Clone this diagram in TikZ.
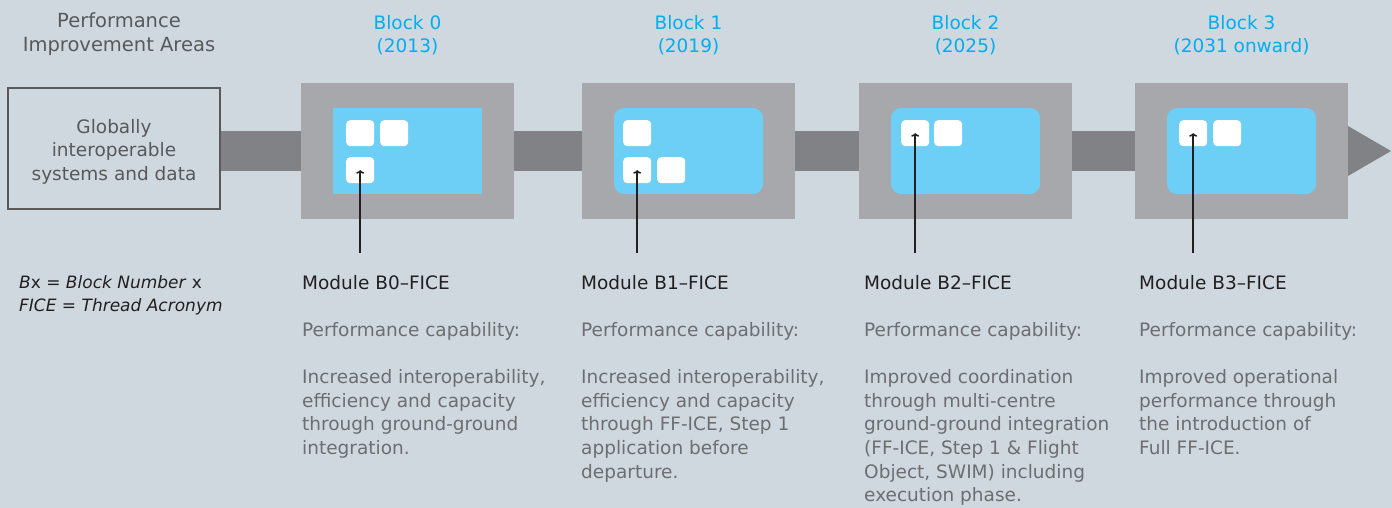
\documentclass[tikz,border=0pt]{standalone}
\usepackage{fontspec}
\setmainfont{DejaVu Sans}
\usetikzlibrary{arrows.meta,positioning}

\definecolor{bgcol}{HTML}{CFD8DF}
\definecolor{boxgray}{HTML}{58595B}
\definecolor{barcol}{HTML}{818285}
\definecolor{blkgray}{HTML}{A7A8AB}
\definecolor{coreblue}{HTML}{6DCFF6}
\definecolor{titleblue}{HTML}{00AEEF}
\definecolor{modblack}{HTML}{231F20}
\definecolor{capgray}{HTML}{6D6E71}

\begin{document}
\begin{tikzpicture}[x=1pt, y=-1pt, >={To[length=3.5pt,width=8pt]},
  txt/.style={font=\fontsize{18.5}{23.6}\selectfont, inner sep=0pt},
  blk/.style={fill=blkgray, minimum width=213pt, minimum height=136pt, inner sep=0pt},
  core/.style={fill=coreblue, minimum width=149pt, minimum height=86pt, inner sep=0pt},
  sq/.style={fill=white, rounded corners=4pt, minimum width=28pt, minimum height=26pt,
    inner sep=0pt, anchor=north west},
  pin/.style={->, line width=1.6pt, modblack},
  modtxt/.style={txt, anchor=north west, align=left, text=capgray}]

  \useasboundingbox (0,0) rectangle (1392,508);
  \fill[bgcol] (0,0) rectangle (1392,508);

  % timeline
  \node[txt, font=\fontsize{19.5}{23.6}\selectfont, align=center, text=boxgray] (head) at (119,34)
    {Performance\\Improvement Areas};
  \fill[barcol] (221,131) rectangle (1348,171);
  \fill[barcol] (1348,126) -- (1391,151) -- (1348,176) -- cycle;
  \node[draw=boxgray, line width=2pt, fill=bgcol, minimum width=212pt, minimum height=121pt,
    inner sep=0pt] (glob) at (114,148.5) {};
  \node[txt, align=center, text=boxgray] (globtxt) at ([yshift=-3pt]glob.center)
    {Globally\\interoperable\\systems and data};

  \foreach \i/\cx/\yr/\rc in {0/407.5/2013/0pt, 1/688.5/2019/10pt, 2/965.5/2025/10pt, 3/1241.5/2031 onward/10pt} {
    \node[blk] (blk\i) at (\cx,151) {};
    \node[core, rounded corners=\rc] (core\i) at (\cx,151) {};
    \node[txt, align=center, text=titleblue] (yr\i) at (\cx,35) {Block \i\\(\yr)};
  }

  \node[sq] (b0a) at (346,120) {};
  \node[sq] (b0b) at (380,120) {};
  \node[sq] (b0c) at (346,157) {};
  \node[sq] (b1a) at (623,120) {};
  \node[sq] (b1b) at (623,157) {};
  \node[sq] (b1c) at (657,157) {};
  \node[sq] (b2a) at (901,120) {};
  \node[sq] (b2b) at (934,120) {};
  \node[sq] (b3a) at (1179,120) {};
  \node[sq] (b3b) at (1213,120) {};

  \coordinate (pin0) at (b0c.center |- 0,253);
  \coordinate (pin1) at (b1b.center |- 0,253);
  \coordinate (pin2) at (b2a.center |- 0,253);
  \coordinate (pin3) at (b3a.center |- 0,253);
  \draw[pin] (pin0) -- (b0c.center);
  \draw[pin] (pin1) -- (b1b.center);
  \draw[pin] (pin2) -- (b2a.center);
  \draw[pin] (pin3) -- (b3a.center);

  % legend and modules
  \node[txt, font=\fontsize{17}{23.6}\selectfont, anchor=north west, align=left, text=modblack] (key) at (19,275)
    {\textit{B}x \textit{= Block Number} x\\\textit{FICE = Thread Acronym}};
  \node[modtxt] (mod0) at (302,275) {{\color{modblack}Module B0–FICE}\\[23.6pt]
    Performance capability:\\[23.6pt]
    Increased interoperability,\\efficiency and capacity\\through ground-ground\\integration.};
  \node[modtxt] (mod1) at (581,275) {{\color{modblack}Module B1–FICE}\\[23.6pt]
    Performance capability:\\[23.6pt]
    Increased interoperability,\\efficiency and capacity\\through FF-ICE, Step 1\\application before\\departure.};
  \node[modtxt] (mod2) at (864,275) {{\color{modblack}Module B2–FICE}\\[23.6pt]
    Performance capability:\\[23.6pt]
    Improved coordination\\through multi-centre\\ground-ground integration\\(FF-ICE, Step 1 \& Flight\\Object, SWIM) including\\execution phase.};
  \node[modtxt] (mod3) at (1139,275) {{\color{modblack}Module B3–FICE}\\[23.6pt]
    Performance capability:\\[23.6pt]
    Improved operational\\performance through\\the introduction of\\Full FF-ICE.};
\end{tikzpicture}
\end{document}
